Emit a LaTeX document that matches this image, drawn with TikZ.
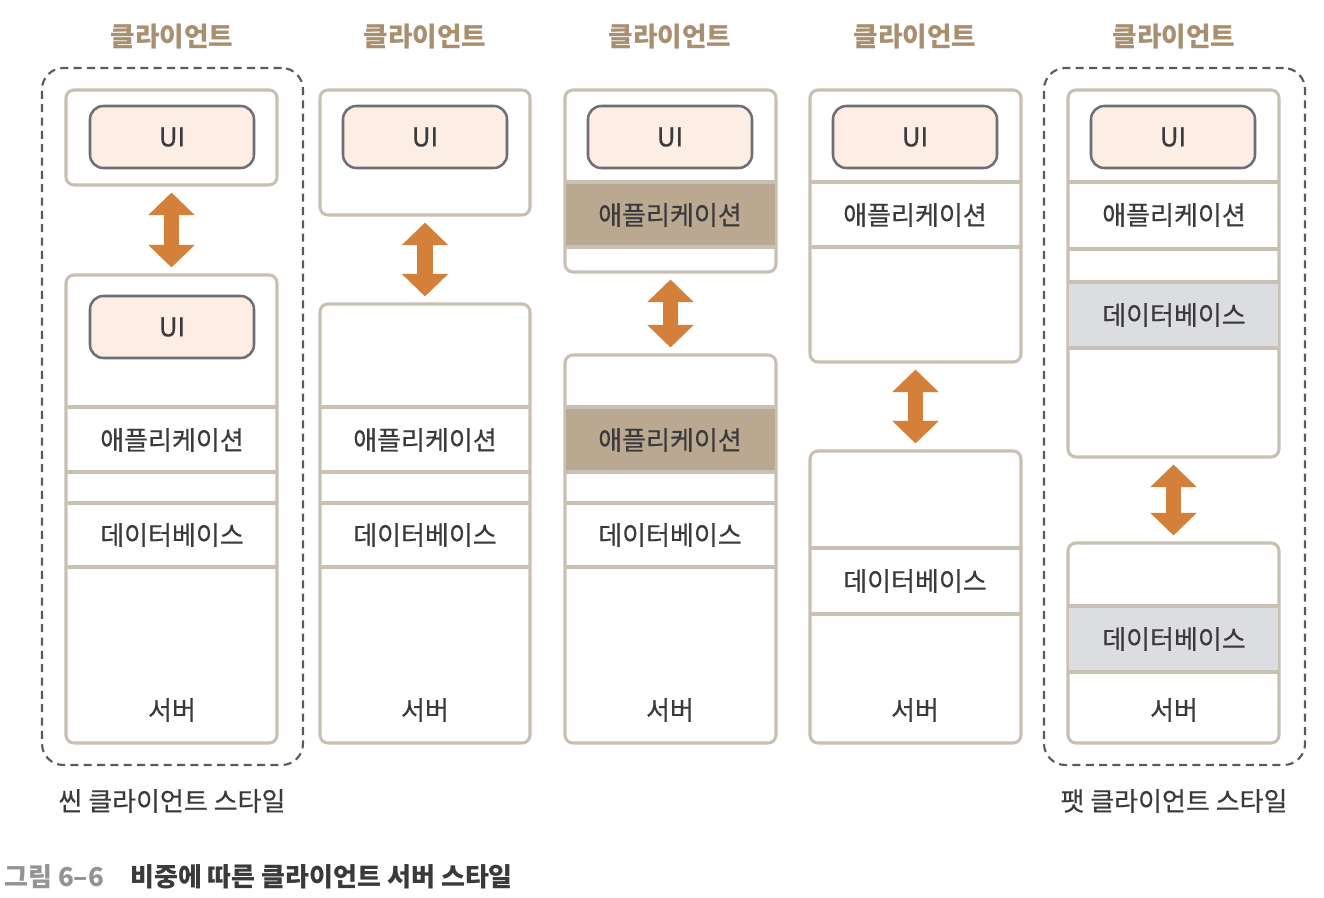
\documentclass[tikz,border=0pt]{standalone}
\usepackage{fontspec}
\setmainfont{Noto Sans CJK KR}
\newfontfamily\lblfont[FakeBold=0.4]{Noto Sans CJK KR}
\usetikzlibrary{arrows.meta}
\definecolor{bordc}{HTML}{C9C0B4}
\definecolor{uifill}{HTML}{FCEDE5}
\definecolor{uidraw}{HTML}{6E6E74}
\definecolor{appband}{HTML}{BAA891}
\definecolor{dbband}{HTML}{DCDDE1}
\definecolor{hdrc}{HTML}{A88F70}
\definecolor{txtc}{HTML}{3A3A3C}
\definecolor{arrc}{HTML}{D4803A}
\definecolor{dashc}{HTML}{5A5A5C}
\tikzset{
  outbox/.style={draw=bordc, line width=2.3pt, fill=white, rounded corners=6pt, inner sep=0pt},
  uibox/.style={draw=uidraw, line width=1.9pt, fill=uifill, rounded corners=10pt, inner sep=0pt},
  divline/.style={draw=bordc, line width=2.3pt},
  lbl/.style={text=txtc, font=\lblfont\fontsize{19.5}{21}\selectfont, inner sep=0pt},
  hdr/.style={text=hdrc, font=\bfseries\fontsize{20}{22}\selectfont, inner sep=0pt},
  biarrow/.style={draw=arrc, line width=11.5pt, {Triangle[width=34pt,length=17pt]}-{Triangle[width=34pt,length=17pt]}, shorten <=4.5pt, shorten >=4.5pt},
  dashbox/.style={draw=dashc, line width=1.6pt, dash pattern=on 6pt off 4pt, rounded corners=16pt, inner sep=0pt},
}
\newcommand\mkbox[6]{%
  \pgfmathsetmacro\bw{(#5-#3)*0.75}\pgfmathsetmacro\bh{(#6-#4)*0.75}%
  \node[#2, minimum width=\bw pt, minimum height=\bh pt] (#1) at ({(#3+#5)/2},{(#4+#6)/2}) {};}
\newcommand\mkband[5]{% color x1 y1 x2 y2
  \fill[#1] (#2,#3) rectangle (#4,#5);
  \draw[divline] (#2,#3) -- (#4,#3);
  \draw[divline] (#2,#5) -- (#4,#5);}
\begin{document}
\begin{tikzpicture}[x=0.75pt,y=-0.75pt]
\useasboundingbox[fill=white] (0,0) rectangle (1324,898);

% dashed groups
\mkbox{dashL}{dashbox}{42}{68}{303}{765}
\mkbox{dashR}{dashbox}{1044}{68}{1305}{765}

% headers
\node[hdr] (h1) at (172,37) {클라이언트};
\node[hdr] (h2) at (425,37) {클라이언트};
\node[hdr] (h3) at (670,37) {클라이언트};
\node[hdr] (h4) at (915,37) {클라이언트};
\node[hdr] (h5) at (1174,37) {클라이언트};

% ---------- column 1 ----------
\mkbox{a1}{outbox}{66}{90}{277}{185}
\mkbox{u1}{uibox}{90}{106}{254}{168}
\node[lbl] (u1t) at (u1) {UI};
\mkbox{b1}{outbox}{66}{275}{277}{743}
\mkbox{u1b}{uibox}{90}{296}{254}{358}
\node[lbl] (u1bt) at (u1b) {UI};
\draw[divline] (67,407) -- (276,407);
\draw[divline] (67,472) -- (276,472);
\draw[divline] (67,503) -- (276,503);
\draw[divline] (67,567) -- (276,567);
\node[lbl] (app1) at (172,440) {애플리케이션};
\node[lbl] (db1) at (172,535) {데이터베이스};
\node[lbl] (sv1) at (172,710) {서버};
\draw[biarrow] (a1.south) -- (b1.north);

% ---------- column 2 ----------
\mkbox{a2}{outbox}{320}{90}{530}{215}
\mkbox{u2}{uibox}{343}{106}{507}{168}
\node[lbl] (u2t) at (u2) {UI};
\mkbox{b2}{outbox}{320}{304}{530}{743}
\draw[divline] (321,407) -- (529,407);
\draw[divline] (321,472) -- (529,472);
\draw[divline] (321,503) -- (529,503);
\draw[divline] (321,567) -- (529,567);
\node[lbl] (app2) at (425,440) {애플리케이션};
\node[lbl] (db2) at (425,535) {데이터베이스};
\node[lbl] (sv2) at (425,710) {서버};
\draw[biarrow] (a2.south) -- (b2.north);

% ---------- column 3 ----------
\mkbox{a3}{outbox}{565}{90}{776}{272}
\mkband{appband}{566}{182}{775}{247}
\mkbox{u3}{uibox}{588}{106}{752}{168}
\node[lbl] (u3t) at (u3) {UI};
\node[lbl] (app3a) at (670,215) {애플리케이션};
\mkbox{b3}{outbox}{565}{355}{776}{743}
\mkband{appband}{566}{407}{775}{472}
\draw[divline] (566,503) -- (775,503);
\draw[divline] (566,567) -- (775,567);
\node[lbl] (app3) at (670,440) {애플리케이션};
\node[lbl] (db3) at (670,535) {데이터베이스};
\node[lbl] (sv3) at (670,710) {서버};
\draw[biarrow] (a3.south) -- (b3.north);

% ---------- column 4 ----------
\mkbox{a4}{outbox}{810}{90}{1021}{362}
\mkbox{u4}{uibox}{833}{106}{997}{168}
\node[lbl] (u4t) at (u4) {UI};
\draw[divline] (811,182) -- (1020,182);
\draw[divline] (811,247) -- (1020,247);
\node[lbl] (app4) at (915,215) {애플리케이션};
\mkbox{b4}{outbox}{810}{451}{1021}{743}
\draw[divline] (811,548) -- (1020,548);
\draw[divline] (811,614) -- (1020,614);
\node[lbl] (db4) at (915,581) {데이터베이스};
\node[lbl] (sv4) at (915,710) {서버};
\draw[biarrow] (a4.south) -- (b4.north);

% ---------- column 5 ----------
\mkbox{a5}{outbox}{1068}{90}{1279}{457}
\mkbox{u5}{uibox}{1091}{106}{1255}{168}
\node[lbl] (u5t) at (u5) {UI};
\draw[divline] (1069,182) -- (1278,182);
\draw[divline] (1069,249) -- (1278,249);
\node[lbl] (app5) at (1174,215) {애플리케이션};
\mkband{dbband}{1069}{282}{1278}{348}
\node[lbl] (db5a) at (1174,315) {데이터베이스};
\mkbox{b5}{outbox}{1068}{543}{1279}{743}
\mkband{dbband}{1069}{606}{1278}{672}
\node[lbl] (db5) at (1174,639) {데이터베이스};
\node[lbl] (sv5) at (1174,710) {서버};
\draw[biarrow] (a5.south) -- (b5.north);

% group labels
\node[lbl] (thin) at (172,801) {씬 클라이언트 스타일};
\node[lbl] (fat) at (1174,801) {팻 클라이언트 스타일};

% caption
\node[anchor=west, inner sep=0pt, font=\bfseries\fontsize{19.5}{21}\selectfont, text=gray!85] (capn) at (4,877) {그림 6–6};
\node[anchor=west, inner sep=0pt, font=\bfseries\fontsize{19.5}{21}\selectfont, text=txtc] (capt) at (130,877) {비중에 따른 클라이언트 서버 스타일};
\end{tikzpicture}
\end{document}
